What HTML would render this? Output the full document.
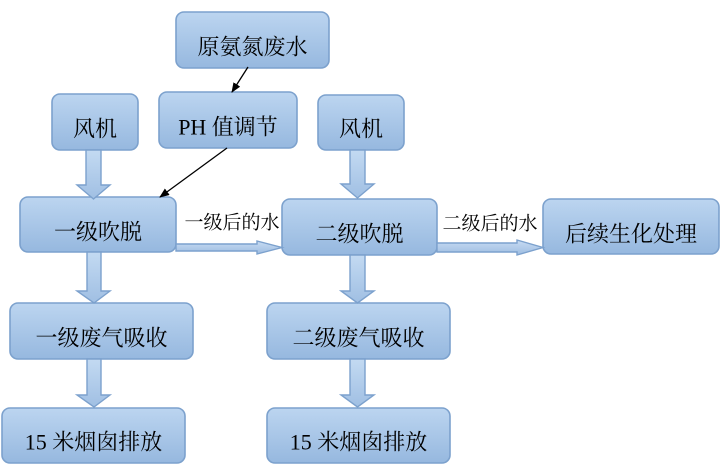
<!DOCTYPE html>
<html><head><meta charset="utf-8">
<style>
html,body{margin:0;padding:0;background:#fff;}
svg{display:block;}
.t{font-family:"Liberation Serif","Noto Serif CJK SC",serif;font-size:22px;fill:#000;text-anchor:middle;dominant-baseline:central;}
.l{font-family:"Liberation Serif","Noto Serif CJK SC",serif;font-size:19px;fill:#000;text-anchor:middle;dominant-baseline:central;}
</style></head>
<body>
<svg width="724" height="476" viewBox="0 0 724 476" xmlns="http://www.w3.org/2000/svg">
<defs>
<linearGradient id="g" x1="0" y1="0" x2="0" y2="1">
<stop offset="0" stop-color="#bcd5f0"/>
<stop offset="1" stop-color="#96b8df"/>
</linearGradient>
<linearGradient id="ga" x1="0" y1="0" x2="0" y2="1">
<stop offset="0" stop-color="#c3daf2"/>
<stop offset="1" stop-color="#a0bfe3"/>
</linearGradient>
<linearGradient id="gh" x1="0" y1="0" x2="0" y2="1">
<stop offset="0" stop-color="#c8dcf3"/>
<stop offset="1" stop-color="#9dbce1"/>
</linearGradient>
<marker id="ah" markerWidth="10" markerHeight="10" refX="9" refY="4" orient="auto" markerUnits="userSpaceOnUse">
<path d="M0,0 L10,4 L0,8 Z" fill="#000"/>
</marker>
</defs>

<g fill="url(#g)" stroke="#7ca1cd" stroke-width="1.6">
<rect x="176" y="12" width="153" height="56" rx="8"/>
<rect x="159" y="92" width="138" height="56" rx="8"/>
<rect x="52" y="94" width="86" height="56" rx="8"/>
<rect x="318" y="95" width="86" height="55" rx="8"/>
<rect x="20" y="197" width="156" height="55" rx="8"/>
<rect x="282" y="199" width="155" height="56" rx="8"/>
<rect x="543" y="199" width="176" height="55" rx="8"/>
<rect x="10" y="303" width="183" height="56" rx="8"/>
<rect x="267" y="303" width="183" height="56" rx="8"/>
<rect x="2" y="408" width="183" height="55" rx="8"/>
<rect x="267" y="408" width="183" height="55" rx="8"/>
</g>

<!-- block arrows vertical -->
<g fill="url(#ga)" stroke="#7ca1cd" stroke-width="1.4" stroke-linejoin="miter">
<path d="M86,150 L101,150 L101,185 L110,185 L93.5,199 L77,185 L86,185 Z"/>
<path d="M350,150 L365,150 L365,184 L374,184 L357.5,198 L341,184 L350,184 Z"/>
<path d="M87,252 L101,252 L101,291 L110,291 L94,303 L77,291 L87,291 Z"/>
<path d="M87,359 L101,359 L101,395 L110,395 L94,407 L77,395 L87,395 Z"/>
<path d="M350,255 L365,255 L365,291 L374,291 L357.5,303 L341,291 L350,291 Z"/>
<path d="M350,359 L365,359 L365,395 L374,395 L357.5,407 L341,395 L350,395 Z"/>
</g>
<!-- block arrows horizontal -->
<g fill="url(#gh)" stroke="#7ca1cd" stroke-width="1.4">
<path d="M176,244 L257,244 L257,241 L282,247.5 L257,254 L257,251 L176,251 Z"/>
<path d="M437,243 L517,243 L517,240 L543,247.5 L517,255 L517,252 L437,252 Z"/>
</g>

<!-- black arrows -->
<g stroke="#000" stroke-width="1.3" fill="none">
<line x1="248" y1="67" x2="232" y2="92" marker-end="url(#ah)"/>
<line x1="227" y1="148" x2="160" y2="197" marker-end="url(#ah)"/>
</g>

<text class="t" x="252.5" y="47">原氨氮废水</text>
<text class="t" x="228" y="127">PH 值调节</text>
<text class="t" x="95" y="129">风机</text>
<text class="t" x="361" y="129">风机</text>
<text class="t" x="98" y="232">一级吹脱</text>
<text class="t" x="359.5" y="234">二级吹脱</text>
<text class="t" x="631" y="234">后续生化处理</text>
<text class="t" x="101.5" y="338">一级废气吸收</text>
<text class="t" x="358.5" y="338">二级废气吸收</text>
<text class="t" x="93.5" y="442">15 米烟囱排放</text>
<text class="t" x="358.5" y="442">15 米烟囱排放</text>

<text class="l" x="232" y="223">一级后的水</text>
<text class="l" x="490" y="224">二级后的水</text>
</svg>
</body></html>
